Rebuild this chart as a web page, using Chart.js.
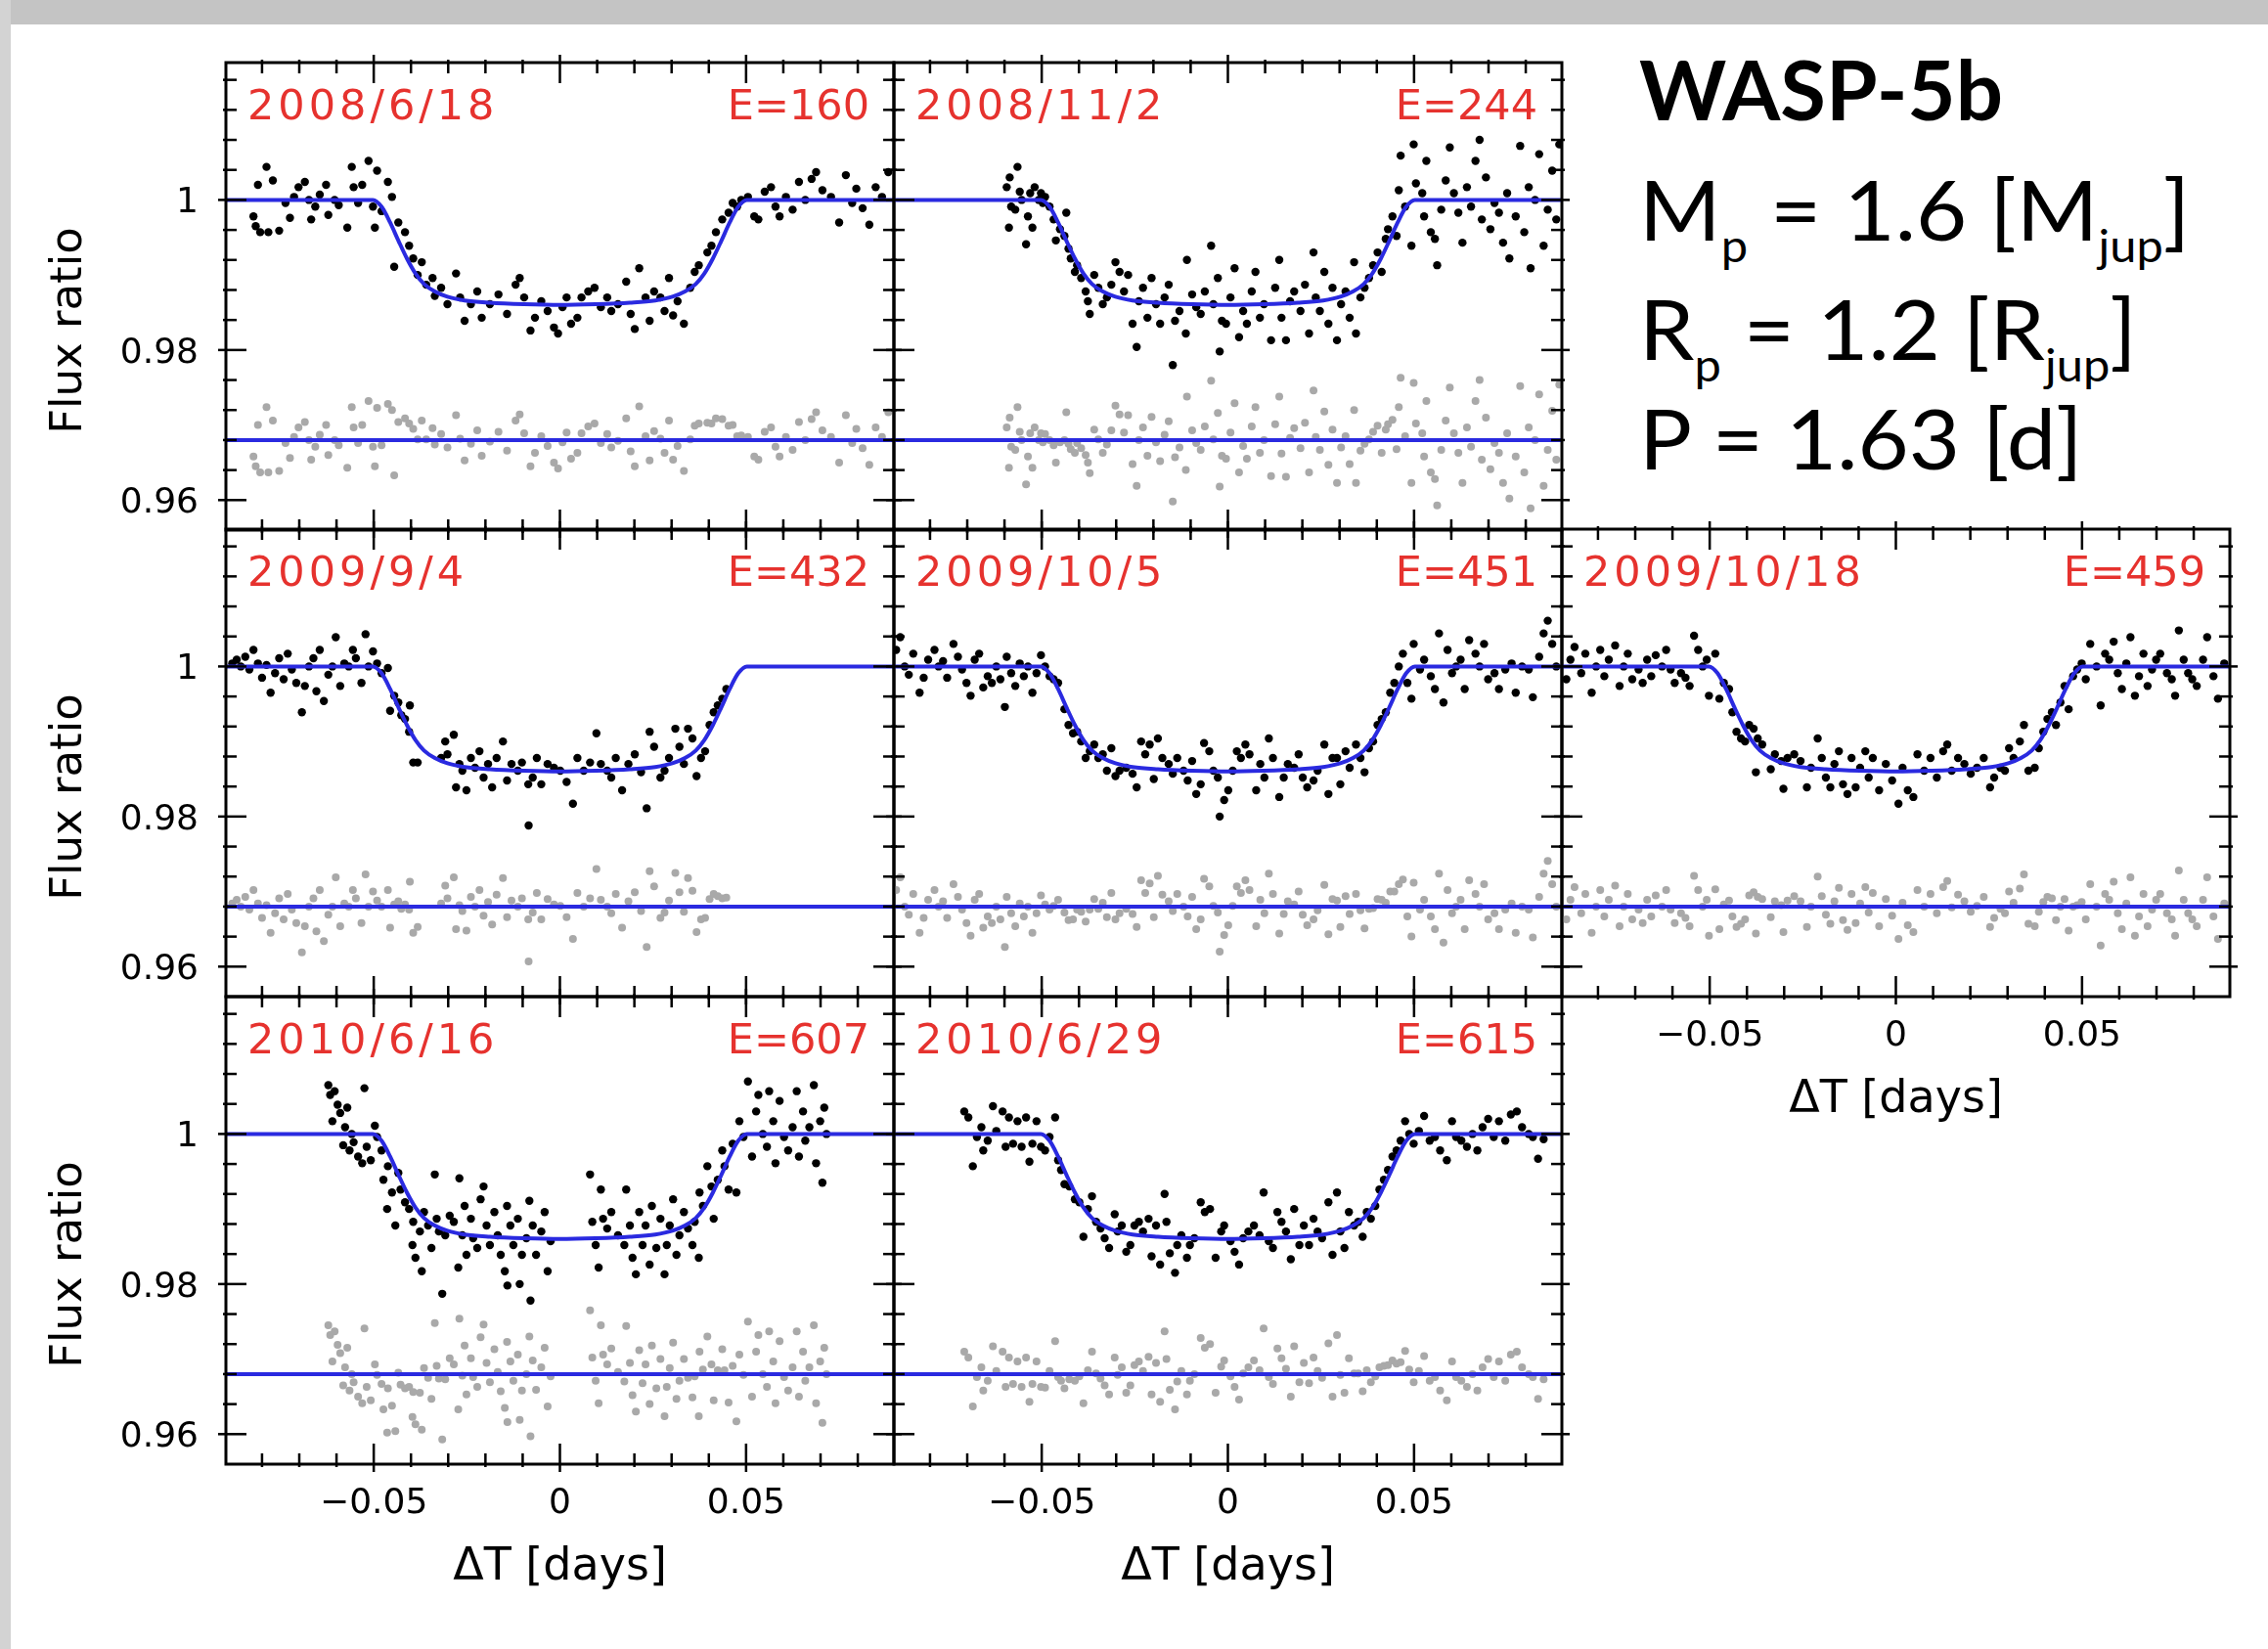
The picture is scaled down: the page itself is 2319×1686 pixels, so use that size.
<!DOCTYPE html>
<html>
<head>
<meta charset="utf-8">
<title>WASP-5b transit light curves</title>
<script src="https://cdn.jsdelivr.net/npm/chart.js@4.4.1/dist/chart.umd.min.js"></script>
<style>
  html, body { margin: 0; padding: 0; background: #fff; }
  body { position: relative; width: 2319px; height: 1686px; overflow: hidden; }
  .bar-top { position: absolute; left: 0; top: 0; width: 2319px; height: 25px; background: #c4c4c4; }
  .bar-left { position: absolute; left: 0; top: 0; width: 11px; height: 1686px; background: #d3d3d3; }
  canvas { position: absolute; left: 0; top: 0; }
  .info { position: absolute; left: 1676px; font-family: Lato, "Open Sans", sans-serif; color: #000;
          font-size: 85px; line-height: 85px; white-space: nowrap; font-weight: 400;
          transform: scaleX(1.06); transform-origin: 0 0; }
  .info .sub { font-size: 46px; position: relative; top: 22px; }
  #title { font-weight: bold; transform: none; }
</style>
</head>
<body>
<div class="bar-top"></div>
<div class="bar-left"></div>

<div class="info" id="title" style="top:48px">WASP-5b</div>
<div class="info" style="top:171px">M<span class="sub">p</span> = 1.6 [M<span class="sub">jup</span>]</div>
<div class="info" style="top:293px">R<span class="sub">p</span> = 1.2 [R<span class="sub">jup</span>]</div>
<div class="info" style="top:405px">P = 1.63 [d]</div>

<script>
// axis limits and ticks (days / flux ratio)
const X_MIN = -0.0897, X_MAX = 0.0897;
const Y_MIN = 0.956, Y_MAX = 1.0183;
const X_MAJOR = [-0.05, 0, 0.05];
const X_LABELS = ['\u22120.05', '0', '0.05'];
const X_MINOR = [-0.08, -0.07, -0.06, -0.04, -0.03, -0.02, -0.01, 0.01, 0.02, 0.03, 0.04, 0.06, 0.07, 0.08];
const Y_MAJOR = [0.96, 0.98, 1];
const Y_LABELS = ['0.96', '0.98', '1'];
const Y_MINOR = [0.964, 0.968, 0.972, 0.976, 0.984, 0.988, 0.992, 0.996, 1.004, 1.008, 1.012, 1.016];

// residuals are plotted shifted to this level
const RESID_LEVEL = 0.968;

// fitted transit model (same planet for every night)
const MODEL_T = [-0.0897, -0.0502, -0.0479, -0.0456, -0.0434, -0.0411, -0.0388, -0.0365, -0.0336, -0.0302, -0.0256, -0.0188, -0.0096, 0,
  0.0096, 0.0188, 0.0256, 0.0302, 0.0336, 0.0365, 0.0388, 0.0411, 0.0434, 0.0456, 0.0479, 0.0502, 0.0897];
const MODEL_F = [1, 1, 0.9991, 0.9970, 0.9946, 0.9922, 0.9902, 0.9888, 0.9878, 0.9871, 0.9866, 0.9863, 0.9861, 0.9860,
  0.9861, 0.9863, 0.9866, 0.9871, 0.9878, 0.9888, 0.9902, 0.9922, 0.9946, 0.9970, 0.9991, 1, 1];

// observations per night: [dT (days), flux ratio, residual]
const obs_2008_06_18 = [
  [-0.0823,0.9978,0.9658],[-0.0817,0.9965,0.9645],[-0.0811,1.0020,0.9700],[-0.0805,0.9957,0.9637],[-0.0788,1.0044,0.9724],
  [-0.0783,0.9957,0.9637],[-0.0771,1.0026,0.9706],[-0.0754,0.9959,0.9639],[-0.0737,0.9996,0.9676],[-0.0725,0.9976,0.9656],
  [-0.0714,1.0004,0.9684],[-0.0702,1.0017,0.9697],[-0.0685,1.0024,0.9704],[-0.0674,1.0000,0.9680],[-0.0668,0.9974,0.9654],
  [-0.0657,0.9991,0.9671],[-0.0645,1.0007,0.9687],[-0.0628,1.0020,0.9700],[-0.0622,0.9980,0.9660],[-0.0605,1.0000,0.9680],
  [-0.0594,0.9993,0.9673],[-0.0571,0.9963,0.9643],[-0.0559,1.0044,0.9724],[-0.0554,1.0017,0.9697],[-0.0542,0.9996,0.9676],
  [-0.0531,1.0020,0.9700],[-0.0514,1.0052,0.9732],[-0.0502,0.9991,0.9671],[-0.0497,0.9963,0.9645],[-0.0491,1.0039,0.9723],
  [-0.0479,0.9985,0.9673],[-0.0462,1.0024,0.9728],[-0.0451,1.0004,0.9720],[-0.0445,0.9911,0.9633],[-0.0434,0.9970,0.9704],
  [-0.0416,0.9957,0.9709],[-0.0405,0.9939,0.9702],[-0.0394,0.9922,0.9695],[-0.0382,0.9900,0.9681],[-0.0371,0.9917,0.9706],
  [-0.0359,0.9887,0.9681],[-0.0342,0.9896,0.9696],[-0.0336,0.9872,0.9674],[-0.0319,0.9883,0.9688],[-0.0302,0.9861,0.9670],
  [-0.0279,0.9902,0.9713],[-0.0268,0.9870,0.9682],[-0.0256,0.9839,0.9653],[-0.0239,0.9861,0.9675],[-0.0222,0.9878,0.9693],
  [-0.0210,0.9843,0.9659],[-0.0188,0.9861,0.9678],[-0.0165,0.9874,0.9691],[-0.0142,0.9848,0.9666],[-0.0119,0.9887,0.9706],
  [-0.0108,0.9896,0.9714],[-0.0096,0.9870,0.9689],[-0.0079,0.9826,0.9645],[-0.0067,0.9843,0.9663],[-0.0050,0.9865,0.9685],
  [-0.0033,0.9852,0.9672],[-0.0016,0.9830,0.9650],[-0.0005,0.9822,0.9642],[0.0007,0.9857,0.9677],[0.0018,0.9870,0.9690],
  [0.0030,0.9835,0.9655],[0.0047,0.9843,0.9663],[0.0058,0.9870,0.9689],[0.0076,0.9878,0.9698],[0.0093,0.9883,0.9702],
  [0.0110,0.9857,0.9676],[0.0127,0.9870,0.9688],[0.0138,0.9852,0.9670],[0.0156,0.9861,0.9679],[0.0178,0.9891,0.9709],
  [0.0190,0.9848,0.9665],[0.0201,0.9828,0.9645],[0.0213,0.9909,0.9725],[0.0230,0.9870,0.9685],[0.0241,0.9839,0.9653],
  [0.0253,0.9878,0.9692],[0.0270,0.9870,0.9682],[0.0281,0.9852,0.9663],[0.0293,0.9896,0.9706],[0.0304,0.9846,0.9654],
  [0.0316,0.9865,0.9672],[0.0333,0.9835,0.9639],[0.0350,0.9883,0.9681],[0.0362,0.9904,0.9699],[0.0373,0.9913,0.9702],
  [0.0396,0.9930,0.9703],[0.0407,0.9939,0.9702],[0.0419,0.9957,0.9709],[0.0436,0.9974,0.9708],[0.0453,0.9983,0.9699],
  [0.0464,0.9996,0.9700],[0.0476,0.9991,0.9685],[0.0487,1.0000,0.9686],[0.0505,1.0004,0.9684],[0.0522,0.9978,0.9658],
  [0.0533,0.9974,0.9654],[0.0550,1.0011,0.9691],[0.0567,1.0017,0.9697],[0.0579,0.9991,0.9671],[0.0590,0.9978,0.9658],
  [0.0607,1.0004,0.9684],[0.0625,0.9987,0.9667],[0.0642,1.0024,0.9704],[0.0659,1.0000,0.9680],[0.0676,1.0028,0.9708],
  [0.0688,1.0037,0.9717],[0.0705,1.0013,0.9693],[0.0728,1.0004,0.9684],[0.0750,0.9970,0.9650],[0.0768,1.0033,0.9713],
  [0.0785,0.9996,0.9676],[0.0796,1.0015,0.9695],[0.0813,0.9989,0.9669],[0.0831,0.9967,0.9647],[0.0848,1.0017,0.9697],
  [0.0865,1.0004,0.9684],[0.0882,1.0037,0.9717]
];

const obs_2008_11_02 = [
  [-0.0594,1.0017,0.9697],[-0.0588,0.9963,0.9643],[-0.0586,1.0030,0.9710],[-0.0582,0.9991,0.9671],[-0.0571,0.9987,0.9667],
  [-0.0565,1.0044,0.9724],[-0.0559,1.0011,0.9691],[-0.0554,1.0000,0.9680],[-0.0542,0.9941,0.9621],[-0.0537,0.9978,0.9658],
  [-0.0531,1.0009,0.9689],[-0.0525,0.9963,0.9643],[-0.0519,1.0017,0.9697],[-0.0508,1.0000,0.9680],[-0.0502,1.0009,0.9689],
  [-0.0497,0.9996,0.9677],[-0.0491,1.0004,0.9688],[-0.0479,0.9991,0.9680],[-0.0468,0.9974,0.9673],[-0.0462,0.9946,0.9650],
  [-0.0451,0.9961,0.9677],[-0.0439,0.9952,0.9680],[-0.0434,0.9983,0.9717],[-0.0428,0.9935,0.9675],[-0.0422,0.9922,0.9668],
  [-0.0411,0.9904,0.9663],[-0.0405,0.9913,0.9676],[-0.0394,0.9896,0.9669],[-0.0382,0.9878,0.9660],[-0.0376,0.9865,0.9650],
  [-0.0371,0.9848,0.9636],[-0.0359,0.9900,0.9694],[-0.0348,0.9883,0.9681],[-0.0336,0.9861,0.9663],[-0.0325,0.9870,0.9674],
  [-0.0313,0.9887,0.9693],[-0.0302,0.9917,0.9726],[-0.0291,0.9904,0.9714],[-0.0279,0.9878,0.9690],[-0.0268,0.9900,0.9713],
  [-0.0256,0.9835,0.9648],[-0.0245,0.9804,0.9619],[-0.0239,0.9865,0.9680],[-0.0228,0.9883,0.9697],[-0.0216,0.9843,0.9659],
  [-0.0205,0.9896,0.9711],[-0.0193,0.9861,0.9677],[-0.0182,0.9835,0.9652],[-0.0170,0.9870,0.9687],[-0.0159,0.9887,0.9705],
  [-0.0148,0.9780,0.9598],[-0.0142,0.9839,0.9657],[-0.0130,0.9852,0.9670],[-0.0113,0.9822,0.9640],[-0.0110,0.9920,0.9738],
  [-0.0096,0.9874,0.9693],[-0.0085,0.9857,0.9676],[-0.0073,0.9848,0.9667],[-0.0062,0.9878,0.9698],[-0.0045,0.9939,0.9759],
  [-0.0039,0.9861,0.9681],[-0.0027,0.9896,0.9716],[-0.0022,0.9798,0.9618],[-0.0016,0.9839,0.9659],[-0.0005,0.9835,0.9655],
  [0.0007,0.9870,0.9690],[0.0018,0.9909,0.9729],[0.0030,0.9817,0.9637],[0.0041,0.9852,0.9672],[0.0051,0.9835,0.9655],
  [0.0064,0.9878,0.9698],[0.0074,0.9904,0.9724],[0.0086,0.9843,0.9663],[0.0097,0.9861,0.9680],[0.0116,0.9813,0.9632],
  [0.0127,0.9883,0.9701],[0.0138,0.9920,0.9738],[0.0144,0.9843,0.9662],[0.0156,0.9813,0.9631],[0.0167,0.9865,0.9683],
  [0.0178,0.9878,0.9696],[0.0195,0.9852,0.9669],[0.0207,0.9887,0.9703],[0.0218,0.9822,0.9637],[0.0230,0.9930,0.9746],
  [0.0236,0.9870,0.9684],[0.0247,0.9852,0.9667],[0.0259,0.9904,0.9718],[0.0270,0.9835,0.9647],[0.0281,0.9883,0.9694],
  [0.0293,0.9813,0.9623],[0.0304,0.9861,0.9670],[0.0316,0.9878,0.9685],[0.0327,0.9843,0.9648],[0.0339,0.9917,0.9720],
  [0.0344,0.9822,0.9623],[0.0356,0.9870,0.9666],[0.0367,0.9883,0.9675],[0.0379,0.9896,0.9681],[0.0390,0.9913,0.9691],
  [0.0402,0.9930,0.9699],[0.0413,0.9904,0.9663],[0.0424,0.9948,0.9694],[0.0430,0.9961,0.9701],[0.0442,0.9978,0.9707],
  [0.0453,0.9952,0.9668],[0.0459,1.0013,0.9724],[0.0464,1.0059,0.9763],[0.0476,0.9991,0.9685],[0.0493,0.9939,0.9623],
  [0.0499,1.0074,0.9756],[0.0505,1.0022,0.9702],[0.0522,1.0009,0.9689],[0.0527,0.9978,0.9658],[0.0533,1.0052,0.9732],
  [0.0545,0.9957,0.9637],[0.0556,0.9948,0.9628],[0.0562,0.9913,0.9593],[0.0573,0.9987,0.9667],[0.0585,1.0026,0.9706],
  [0.0596,1.0070,0.9750],[0.0607,1.0009,0.9689],[0.0619,0.9983,0.9663],[0.0630,0.9943,0.9623],[0.0642,1.0017,0.9697],
  [0.0653,0.9991,0.9671],[0.0665,1.0052,0.9732],[0.0676,1.0080,0.9760],[0.0682,0.9974,0.9654],[0.0693,1.0030,0.9710],
  [0.0705,0.9961,0.9641],[0.0716,0.9996,0.9676],[0.0728,0.9983,0.9663],[0.0739,0.9943,0.9623],[0.0750,1.0009,0.9689],
  [0.0756,0.9922,0.9602],[0.0773,0.9978,0.9658],[0.0785,1.0072,0.9752],[0.0796,0.9957,0.9637],[0.0808,1.0017,0.9697],
  [0.0813,0.9909,0.9589],[0.0825,1.0000,0.9680],[0.0836,1.0061,0.9741],[0.0848,0.9939,0.9619],[0.0859,0.9987,0.9667],
  [0.0871,1.0039,0.9719],[0.0882,0.9974,0.9654],[0.0890,1.0074,0.9754]
];

const obs_2009_09_04 = [
  [-0.0880,1.0004,0.9684],[-0.0868,1.0009,0.9689],[-0.0857,1.0000,0.9680],[-0.0845,1.0013,0.9693],[-0.0834,0.9996,0.9676],
  [-0.0823,1.0022,0.9702],[-0.0811,1.0004,0.9684],[-0.0800,0.9985,0.9665],[-0.0788,1.0002,0.9682],[-0.0777,0.9965,0.9645],
  [-0.0765,0.9991,0.9671],[-0.0754,1.0011,0.9691],[-0.0742,0.9983,0.9663],[-0.0731,1.0017,0.9697],[-0.0720,0.9996,0.9676],
  [-0.0708,0.9978,0.9658],[-0.0693,0.9939,0.9619],[-0.0685,0.9974,0.9654],[-0.0674,1.0000,0.9680],[-0.0662,1.0011,0.9691],
  [-0.0654,0.9967,0.9647],[-0.0645,1.0022,0.9702],[-0.0634,0.9954,0.9634],[-0.0622,0.9989,0.9669],[-0.0611,1.0000,0.9680],
  [-0.0602,1.0039,0.9719],[-0.0590,0.9974,0.9654],[-0.0579,1.0004,0.9684],[-0.0567,1.0000,0.9680],[-0.0556,1.0022,0.9702],
  [-0.0548,1.0011,0.9691],[-0.0533,0.9978,0.9658],[-0.0522,1.0043,0.9723],[-0.0514,1.0000,0.9680],[-0.0502,1.0020,0.9700],
  [-0.0491,1.0004,0.9688],[-0.0479,0.9991,0.9680],[-0.0462,0.9998,0.9702],[-0.0456,0.9941,0.9652],[-0.0445,0.9961,0.9683],
  [-0.0434,0.9952,0.9687],[-0.0426,0.9935,0.9677],[-0.0416,0.9930,0.9683],[-0.0405,0.9913,0.9676],[-0.0403,0.9948,0.9713],
  [-0.0394,0.9872,0.9645],[-0.0382,0.9872,0.9653],[-0.0319,0.9878,0.9684],[-0.0308,0.9900,0.9708],[-0.0302,0.9883,0.9691],
  [-0.0285,0.9909,0.9719],[-0.0279,0.9839,0.9650],[-0.0270,0.9870,0.9682],[-0.0262,0.9861,0.9674],[-0.0251,0.9835,0.9648],
  [-0.0239,0.9878,0.9693],[-0.0228,0.9865,0.9680],[-0.0216,0.9887,0.9702],[-0.0205,0.9852,0.9668],[-0.0193,0.9870,0.9686],
  [-0.0182,0.9839,0.9656],[-0.0170,0.9878,0.9696],[-0.0153,0.9900,0.9718],[-0.0142,0.9848,0.9666],[-0.0130,0.9870,0.9688],
  [-0.0113,0.9861,0.9680],[-0.0102,0.9872,0.9691],[-0.0085,0.9843,0.9663],[-0.0084,0.9788,0.9607],[-0.0073,0.9852,0.9672],
  [-0.0062,0.9878,0.9698],[-0.0050,0.9843,0.9663],[-0.0033,0.9870,0.9690],[-0.0016,0.9865,0.9683],[0.0001,0.9861,0.9681],
  [0.0018,0.9846,0.9666],[0.0035,0.9817,0.9637],[0.0047,0.9878,0.9698],[0.0064,0.9861,0.9680],[0.0081,0.9872,0.9691],
  [0.0098,0.9911,0.9730],[0.0110,0.9870,0.9689],[0.0127,0.9861,0.9680],[0.0138,0.9852,0.9671],[0.0150,0.9878,0.9697],
  [0.0167,0.9835,0.9652],[0.0184,0.9870,0.9687],[0.0201,0.9883,0.9699],[0.0218,0.9859,0.9674],[0.0233,0.9811,0.9626],
  [0.0241,0.9913,0.9727],[0.0253,0.9893,0.9707],[0.0270,0.9852,0.9665],[0.0281,0.9861,0.9672],[0.0293,0.9878,0.9688],
  [0.0310,0.9917,0.9725],[0.0321,0.9893,0.9699],[0.0333,0.9870,0.9673],[0.0344,0.9917,0.9718],[0.0356,0.9904,0.9701],
  [0.0367,0.9854,0.9646],[0.0379,0.9878,0.9663],[0.0390,0.9887,0.9665],[0.0402,0.9922,0.9690],[0.0413,0.9939,0.9697],
  [0.0424,0.9948,0.9694],[0.0436,0.9957,0.9691],[0.0447,0.9970,0.9692]
];

const obs_2009_10_05 = [
  [-0.0891,1.0022,0.9702],[-0.0880,1.0039,0.9719],[-0.0868,1.0000,0.9680],[-0.0857,0.9989,0.9669],[-0.0845,1.0017,0.9697],
  [-0.0828,0.9965,0.9645],[-0.0817,0.9985,0.9665],[-0.0805,1.0009,0.9689],[-0.0788,1.0022,0.9702],[-0.0777,1.0000,0.9680],
  [-0.0765,1.0007,0.9687],[-0.0754,0.9985,0.9665],[-0.0737,1.0030,0.9710],[-0.0725,1.0013,0.9693],[-0.0714,0.9996,0.9676],
  [-0.0702,0.9978,0.9658],[-0.0691,0.9961,0.9641],[-0.0680,1.0009,0.9689],[-0.0668,1.0017,0.9697],[-0.0657,0.9972,0.9652],
  [-0.0645,0.9987,0.9667],[-0.0634,0.9978,0.9658],[-0.0622,1.0000,0.9680],[-0.0611,0.9983,0.9663],[-0.0599,0.9946,0.9626],
  [-0.0594,1.0013,0.9693],[-0.0582,0.9991,0.9671],[-0.0571,0.9974,0.9654],[-0.0559,1.0004,0.9684],[-0.0548,0.9987,0.9667],
  [-0.0537,1.0000,0.9680],[-0.0525,0.9965,0.9645],[-0.0514,0.9991,0.9671],[-0.0502,1.0015,0.9695],[-0.0491,1.0000,0.9683],
  [-0.0479,0.9987,0.9676],[-0.0468,0.9983,0.9681],[-0.0456,0.9978,0.9689],[-0.0439,0.9943,0.9672],[-0.0428,0.9922,0.9662],
  [-0.0416,0.9911,0.9663],[-0.0405,0.9913,0.9676],[-0.0394,0.9900,0.9673],[-0.0382,0.9878,0.9660],[-0.0371,0.9887,0.9676],
  [-0.0359,0.9896,0.9690],[-0.0348,0.9878,0.9677],[-0.0336,0.9883,0.9685],[-0.0325,0.9861,0.9666],[-0.0313,0.9891,0.9698],
  [-0.0302,0.9854,0.9663],[-0.0291,0.9861,0.9671],[-0.0273,0.9865,0.9677],[-0.0256,0.9857,0.9670],[-0.0245,0.9839,0.9653],
  [-0.0233,0.9900,0.9715],[-0.0222,0.9883,0.9698],[-0.0210,0.9896,0.9711],[-0.0199,0.9850,0.9666],[-0.0188,0.9904,0.9721],
  [-0.0176,0.9878,0.9696],[-0.0159,0.9870,0.9687],[-0.0148,0.9857,0.9674],[-0.0136,0.9878,0.9697],[-0.0119,0.9861,0.9680],
  [-0.0108,0.9848,0.9667],[-0.0096,0.9874,0.9693],[-0.0085,0.9830,0.9650],[-0.0073,0.9843,0.9663],[-0.0064,0.9898,0.9717],
  [-0.0050,0.9887,0.9707],[-0.0039,0.9861,0.9681],[-0.0027,0.9852,0.9672],[-0.0022,0.9800,0.9620],[-0.0010,0.9822,0.9642],
  [0.0001,0.9835,0.9655],[0.0013,0.9861,0.9681],[0.0024,0.9887,0.9707],[0.0035,0.9878,0.9698],[0.0047,0.9896,0.9715],
  [0.0058,0.9883,0.9702],[0.0076,0.9835,0.9654],[0.0087,0.9870,0.9689],[0.0098,0.9852,0.9671],[0.0110,0.9904,0.9724],
  [0.0121,0.9878,0.9697],[0.0138,0.9826,0.9644],[0.0150,0.9852,0.9670],[0.0161,0.9870,0.9687],[0.0178,0.9865,0.9683],
  [0.0190,0.9883,0.9700],[0.0201,0.9852,0.9669],[0.0213,0.9839,0.9655],[0.0230,0.9848,0.9663],[0.0241,0.9861,0.9675],
  [0.0259,0.9896,0.9709],[0.0270,0.9830,0.9643],[0.0281,0.9878,0.9690],[0.0293,0.9878,0.9688],[0.0302,0.9843,0.9653],
  [0.0316,0.9887,0.9694],[0.0327,0.9865,0.9670],[0.0344,0.9896,0.9697],[0.0356,0.9878,0.9675],[0.0367,0.9859,0.9651],
  [0.0379,0.9891,0.9677],[0.0390,0.9900,0.9678],[0.0402,0.9922,0.9690],[0.0413,0.9930,0.9689],[0.0424,0.9939,0.9685],
  [0.0436,0.9965,0.9700],[0.0447,0.9978,0.9700],[0.0459,1.0000,0.9710],[0.0470,1.0017,0.9716],[0.0482,0.9978,0.9667],
  [0.0493,0.9957,0.9640],[0.0499,1.0030,0.9712],[0.0516,0.9996,0.9676],[0.0527,1.0009,0.9689],[0.0545,0.9987,0.9667],
  [0.0556,0.9970,0.9650],[0.0567,1.0044,0.9724],[0.0579,0.9952,0.9632],[0.0590,1.0022,0.9702],[0.0602,0.9991,0.9671],
  [0.0613,1.0000,0.9680],[0.0625,1.0009,0.9689],[0.0636,0.9970,0.9650],[0.0648,1.0035,0.9715],[0.0665,1.0017,0.9697],
  [0.0676,1.0000,0.9680],[0.0688,1.0030,0.9710],[0.0699,0.9983,0.9663],[0.0716,0.9991,0.9671],[0.0728,0.9970,0.9650],
  [0.0745,0.9996,0.9676],[0.0762,1.0004,0.9684],[0.0773,0.9965,0.9645],[0.0790,1.0000,0.9680],[0.0808,0.9996,0.9676],
  [0.0819,0.9959,0.9639],[0.0836,1.0013,0.9693],[0.0848,1.0044,0.9724],[0.0859,1.0061,0.9741],[0.0871,1.0030,0.9710],
  [0.0882,1.0000,0.9680]
];

const obs_2009_10_18 = [
  [-0.0885,0.9983,0.9663],[-0.0874,1.0009,0.9689],[-0.0863,1.0026,0.9706],[-0.0845,0.9991,0.9671],[-0.0834,1.0017,0.9697],
  [-0.0817,0.9965,0.9645],[-0.0805,1.0000,0.9680],[-0.0794,1.0022,0.9702],[-0.0783,0.9987,0.9667],[-0.0771,1.0009,0.9689],
  [-0.0754,1.0028,0.9708],[-0.0742,0.9974,0.9654],[-0.0731,1.0000,0.9680],[-0.0720,1.0017,0.9697],[-0.0708,0.9983,0.9663],
  [-0.0691,0.9996,0.9676],[-0.0680,0.9978,0.9658],[-0.0668,1.0009,0.9689],[-0.0657,0.9987,0.9667],[-0.0645,1.0015,0.9695],
  [-0.0628,1.0000,0.9680],[-0.0617,1.0022,0.9702],[-0.0605,0.9996,0.9676],[-0.0594,0.9978,0.9658],[-0.0577,0.9991,0.9671],
  [-0.0565,0.9985,0.9665],[-0.0554,0.9974,0.9654],[-0.0542,1.0041,0.9721],[-0.0531,1.0022,0.9702],[-0.0519,1.0000,0.9680],
  [-0.0508,1.0009,0.9689],[-0.0502,0.9961,0.9641],[-0.0485,1.0017,0.9703],[-0.0474,0.9957,0.9650],[-0.0462,0.9978,0.9683],
  [-0.0448,0.9970,0.9688],[-0.0439,0.9939,0.9667],[-0.0428,0.9913,0.9653],[-0.0416,0.9904,0.9657],[-0.0405,0.9900,0.9663],
  [-0.0394,0.9922,0.9695],[-0.0382,0.9917,0.9699],[-0.0376,0.9859,0.9644],[-0.0371,0.9904,0.9693],[-0.0359,0.9896,0.9690],
  [-0.0336,0.9863,0.9666],[-0.0325,0.9883,0.9687],[-0.0308,0.9874,0.9682],[-0.0302,0.9837,0.9646],[-0.0291,0.9878,0.9688],
  [-0.0273,0.9883,0.9694],[-0.0256,0.9874,0.9687],[-0.0239,0.9839,0.9653],[-0.0228,0.9865,0.9680],[-0.0210,0.9904,0.9720],
  [-0.0199,0.9878,0.9694],[-0.0188,0.9852,0.9669],[-0.0176,0.9839,0.9657],[-0.0165,0.9870,0.9687],[-0.0153,0.9887,0.9705],
  [-0.0142,0.9843,0.9662],[-0.0130,0.9830,0.9649],[-0.0119,0.9878,0.9697],[-0.0108,0.9839,0.9658],[-0.0096,0.9865,0.9684],
  [-0.0082,0.9887,0.9706],[-0.0073,0.9852,0.9672],[-0.0062,0.9878,0.9698],[-0.0045,0.9835,0.9654],[-0.0027,0.9870,0.9690],
  [-0.0010,0.9848,0.9668],[0.0007,0.9817,0.9637],[0.0018,0.9865,0.9685],[0.0032,0.9835,0.9655],[0.0047,0.9826,0.9646],
  [0.0058,0.9883,0.9702],[0.0076,0.9861,0.9680],[0.0093,0.9878,0.9697],[0.0110,0.9852,0.9671],[0.0127,0.9887,0.9706],
  [0.0138,0.9896,0.9714],[0.0150,0.9861,0.9679],[0.0167,0.9878,0.9696],[0.0184,0.9870,0.9687],[0.0201,0.9857,0.9673],
  [0.0218,0.9865,0.9681],[0.0236,0.9878,0.9693],[0.0253,0.9839,0.9653],[0.0264,0.9852,0.9665],[0.0281,0.9865,0.9677],
  [0.0293,0.9861,0.9671],[0.0304,0.9891,0.9700],[0.0316,0.9878,0.9685],[0.0333,0.9900,0.9704],[0.0344,0.9922,0.9723],
  [0.0356,0.9861,0.9657],[0.0373,0.9865,0.9654],[0.0384,0.9891,0.9673],[0.0396,0.9913,0.9686],[0.0407,0.9930,0.9693],
  [0.0419,0.9939,0.9691],[0.0430,0.9922,0.9662],[0.0442,0.9952,0.9680],[0.0453,0.9974,0.9690],[0.0464,0.9943,0.9648],
  [0.0476,0.9987,0.9680],[0.0487,0.9996,0.9682],[0.0499,1.0004,0.9686],[0.0510,0.9983,0.9663],[0.0522,1.0030,0.9710],
  [0.0539,1.0000,0.9680],[0.0550,0.9948,0.9628],[0.0562,1.0017,0.9697],[0.0573,1.0009,0.9689],[0.0585,1.0033,0.9713],
  [0.0596,0.9991,0.9671],[0.0607,0.9970,0.9650],[0.0619,1.0004,0.9684],[0.0630,1.0039,0.9719],[0.0642,0.9961,0.9641],
  [0.0653,0.9987,0.9667],[0.0665,1.0017,0.9697],[0.0676,0.9974,0.9654],[0.0688,0.9996,0.9676],[0.0699,1.0009,0.9689],
  [0.0710,1.0017,0.9697],[0.0728,0.9991,0.9671],[0.0741,0.9983,0.9663],[0.0750,0.9961,0.9641],[0.0760,1.0048,0.9728],
  [0.0773,1.0009,0.9689],[0.0785,0.9991,0.9671],[0.0796,0.9983,0.9663],[0.0808,0.9974,0.9654],[0.0825,1.0009,0.9689],
  [0.0836,1.0039,0.9719],[0.0853,0.9987,0.9667],[0.0865,0.9957,0.9637],[0.0882,1.0004,0.9684]
];

const obs_2010_06_16 = [
  [-0.0622,1.0065,0.9745],[-0.0617,1.0052,0.9732],[-0.0611,1.0017,0.9697],[-0.0605,1.0057,0.9737],[-0.0597,1.0039,0.9719],
  [-0.0590,1.0028,0.9708],[-0.0582,0.9985,0.9665],[-0.0577,1.0009,0.9689],[-0.0571,1.0035,0.9715],[-0.0565,0.9978,0.9658],
  [-0.0559,1.0000,0.9680],[-0.0554,0.9989,0.9669],[-0.0542,0.9970,0.9650],[-0.0531,0.9961,0.9641],[-0.0525,1.0061,0.9741],
  [-0.0519,0.9983,0.9663],[-0.0508,0.9965,0.9645],[-0.0497,1.0011,0.9693],[-0.0491,0.9996,0.9679],[-0.0479,0.9978,0.9667],
  [-0.0474,0.9939,0.9633],[-0.0464,0.9900,0.9602],[-0.0462,0.9957,0.9661],[-0.0451,0.9922,0.9638],[-0.0442,0.9878,0.9604],
  [-0.0434,0.9948,0.9682],[-0.0428,0.9926,0.9666],[-0.0416,0.9909,0.9661],[-0.0405,0.9900,0.9663],[-0.0396,0.9852,0.9623],
  [-0.0394,0.9883,0.9656],[-0.0388,0.9835,0.9613],[-0.0376,0.9870,0.9655],[-0.0371,0.9817,0.9606],[-0.0365,0.9896,0.9688],
  [-0.0354,0.9878,0.9675],[-0.0345,0.9848,0.9647],[-0.0336,0.9946,0.9748],[-0.0331,0.9887,0.9691],[-0.0325,0.9870,0.9674],
  [-0.0316,0.9787,0.9593],[-0.0308,0.9865,0.9673],[-0.0296,0.9891,0.9701],[-0.0285,0.9883,0.9693],[-0.0273,0.9822,0.9633],
  [-0.0270,0.9941,0.9754],[-0.0262,0.9865,0.9678],[-0.0256,0.9904,0.9718],[-0.0251,0.9839,0.9653],[-0.0239,0.9887,0.9701],
  [-0.0233,0.9861,0.9676],[-0.0222,0.9848,0.9663],[-0.0213,0.9913,0.9729],[-0.0205,0.9930,0.9746],[-0.0197,0.9878,0.9695],
  [-0.0188,0.9852,0.9669],[-0.0176,0.9896,0.9713],[-0.0167,0.9865,0.9683],[-0.0159,0.9839,0.9657],[-0.0148,0.9817,0.9635],
  [-0.0142,0.9904,0.9723],[-0.0141,0.9798,0.9616],[-0.0133,0.9878,0.9697],[-0.0125,0.9852,0.9671],[-0.0113,0.9887,0.9706],
  [-0.0108,0.9800,0.9619],[-0.0102,0.9839,0.9658],[-0.0090,0.9861,0.9680],[-0.0082,0.9911,0.9730],[-0.0079,0.9778,0.9597],
  [-0.0073,0.9878,0.9698],[-0.0064,0.9839,0.9659],[-0.0050,0.9870,0.9689],[-0.0041,0.9896,0.9715],[-0.0033,0.9817,0.9637],
  [-0.0025,0.9857,0.9677],[0.0081,0.9946,0.9765],[0.0087,0.9883,0.9702],[0.0096,0.9852,0.9671],[0.0104,0.9822,0.9641],
  [0.0110,0.9926,0.9745],[0.0116,0.9887,0.9706],[0.0127,0.9874,0.9693],[0.0138,0.9896,0.9714],[0.0156,0.9865,0.9683],
  [0.0173,0.9852,0.9670],[0.0178,0.9926,0.9744],[0.0188,0.9878,0.9695],[0.0195,0.9835,0.9652],[0.0204,0.9813,0.9630],
  [0.0213,0.9896,0.9712],[0.0222,0.9852,0.9668],[0.0230,0.9878,0.9693],[0.0241,0.9826,0.9640],[0.0247,0.9904,0.9718],
  [0.0259,0.9848,0.9661],[0.0270,0.9887,0.9700],[0.0281,0.9813,0.9624],[0.0287,0.9852,0.9663],[0.0295,0.9878,0.9688],
  [0.0304,0.9913,0.9722],[0.0313,0.9839,0.9647],[0.0321,0.9865,0.9671],[0.0333,0.9896,0.9700],[0.0344,0.9874,0.9675],
  [0.0356,0.9852,0.9649],[0.0362,0.9883,0.9677],[0.0373,0.9835,0.9624],[0.0375,0.9922,0.9710],[0.0384,0.9904,0.9686],
  [0.0396,0.9957,0.9730],[0.0407,0.9930,0.9693],[0.0413,0.9887,0.9645],[0.0424,0.9939,0.9685],[0.0436,0.9978,0.9713],
  [0.0442,0.9957,0.9685],[0.0453,0.9926,0.9642],[0.0464,0.9987,0.9691],[0.0474,0.9922,0.9617],[0.0482,1.0017,0.9706],
  [0.0493,0.9996,0.9679],[0.0505,1.0070,0.9750],[0.0516,0.9970,0.9650],[0.0527,1.0030,0.9710],[0.0533,1.0052,0.9732],
  [0.0545,1.0000,0.9680],[0.0556,0.9983,0.9663],[0.0562,1.0057,0.9737],[0.0573,1.0017,0.9697],[0.0579,0.9961,0.9641],
  [0.0590,1.0044,0.9724],[0.0602,0.9996,0.9676],[0.0613,0.9978,0.9658],[0.0625,1.0009,0.9689],[0.0636,1.0057,0.9737],
  [0.0642,0.9970,0.9650],[0.0653,1.0030,0.9710],[0.0659,0.9991,0.9671],[0.0670,1.0009,0.9689],[0.0682,1.0065,0.9745],
  [0.0688,0.9961,0.9641],[0.0699,1.0017,0.9697],[0.0705,0.9935,0.9615],[0.0710,1.0035,0.9715],[0.0716,1.0000,0.9680]
];

const obs_2010_06_29 = [
  [-0.0708,1.0030,0.9710],[-0.0697,1.0022,0.9702],[-0.0685,0.9957,0.9637],[-0.0674,0.9996,0.9676],[-0.0662,1.0009,0.9689],
  [-0.0657,0.9978,0.9658],[-0.0645,0.9991,0.9671],[-0.0631,1.0037,0.9717],[-0.0622,1.0004,0.9684],[-0.0605,1.0030,0.9710],
  [-0.0597,0.9983,0.9663],[-0.0588,1.0022,0.9702],[-0.0577,0.9987,0.9667],[-0.0565,1.0017,0.9697],[-0.0554,0.9983,0.9663],
  [-0.0542,1.0022,0.9702],[-0.0533,0.9963,0.9643],[-0.0525,0.9987,0.9667],[-0.0514,1.0017,0.9697],[-0.0502,0.9983,0.9663],
  [-0.0491,0.9978,0.9662],[-0.0479,0.9996,0.9684],[-0.0464,1.0022,0.9724],[-0.0456,0.9965,0.9676],[-0.0448,0.9952,0.9671],
  [-0.0439,0.9933,0.9661],[-0.0426,0.9930,0.9673],[-0.0411,0.9913,0.9671],[-0.0399,0.9909,0.9677],[-0.0388,0.9863,0.9641],
  [-0.0376,0.9900,0.9685],[-0.0365,0.9917,0.9710],[-0.0354,0.9883,0.9681],[-0.0342,0.9874,0.9674],[-0.0331,0.9861,0.9665],
  [-0.0319,0.9848,0.9653],[-0.0304,0.9893,0.9702],[-0.0296,0.9870,0.9679],[-0.0285,0.9878,0.9689],[-0.0273,0.9843,0.9655],
  [-0.0262,0.9852,0.9665],[-0.0251,0.9878,0.9692],[-0.0239,0.9883,0.9697],[-0.0228,0.9870,0.9684],[-0.0213,0.9887,0.9703],
  [-0.0205,0.9837,0.9653],[-0.0193,0.9878,0.9695],[-0.0182,0.9826,0.9643],[-0.0170,0.9920,0.9737],[-0.0165,0.9883,0.9700],
  [-0.0156,0.9841,0.9659],[-0.0142,0.9815,0.9633],[-0.0136,0.9852,0.9670],[-0.0125,0.9865,0.9684],[-0.0110,0.9835,0.9653],
  [-0.0102,0.9852,0.9671],[-0.0090,0.9861,0.9680],[-0.0073,0.9909,0.9728],[-0.0062,0.9896,0.9715],[-0.0048,0.9900,0.9720],
  [-0.0033,0.9835,0.9655],[-0.0018,0.9870,0.9690],[-0.0010,0.9878,0.9698],[0.0007,0.9857,0.9677],[0.0018,0.9843,0.9663],
  [0.0030,0.9826,0.9646],[0.0041,0.9861,0.9681],[0.0055,0.9870,0.9689],[0.0070,0.9878,0.9698],[0.0085,0.9865,0.9685],
  [0.0096,0.9922,0.9741],[0.0110,0.9857,0.9676],[0.0121,0.9848,0.9667],[0.0133,0.9896,0.9714],[0.0144,0.9883,0.9701],
  [0.0156,0.9870,0.9687],[0.0169,0.9833,0.9650],[0.0178,0.9900,0.9717],[0.0192,0.9852,0.9669],[0.0204,0.9878,0.9695],
  [0.0218,0.9852,0.9668],[0.0230,0.9887,0.9702],[0.0241,0.9870,0.9684],[0.0253,0.9861,0.9675],[0.0270,0.9909,0.9721],
  [0.0281,0.9839,0.9650],[0.0293,0.9922,0.9732],[0.0302,0.9870,0.9679],[0.0313,0.9848,0.9655],[0.0325,0.9896,0.9701],
  [0.0339,0.9878,0.9681],[0.0350,0.9883,0.9681],[0.0362,0.9863,0.9657],[0.0373,0.9896,0.9685],[0.0384,0.9887,0.9669],
  [0.0396,0.9904,0.9677],[0.0407,0.9926,0.9689],[0.0419,0.9939,0.9691],[0.0430,0.9952,0.9692],[0.0442,0.9970,0.9698],
  [0.0453,0.9978,0.9694],[0.0464,0.9991,0.9696],[0.0476,1.0017,0.9711],[0.0487,1.0000,0.9686],[0.0499,0.9987,0.9669],
  [0.0513,1.0004,0.9684],[0.0527,1.0024,0.9704],[0.0542,0.9991,0.9671],[0.0556,0.9996,0.9676],[0.0570,0.9978,0.9658],
  [0.0588,0.9965,0.9645],[0.0602,1.0017,0.9697],[0.0613,0.9996,0.9676],[0.0627,0.9991,0.9671],[0.0642,0.9983,0.9663],
  [0.0657,1.0000,0.9680],[0.0670,0.9978,0.9658],[0.0684,1.0009,0.9689],[0.0699,1.0020,0.9700],[0.0714,0.9996,0.9676],
  [0.0728,1.0017,0.9697],[0.0745,0.9991,0.9671],[0.0760,1.0026,0.9706],[0.0776,1.0030,0.9710],[0.0790,1.0009,0.9689],
  [0.0808,1.0000,0.9680],[0.0819,0.9996,0.9676],[0.0833,0.9967,0.9647],[0.0848,0.9993,0.9673]
];

// panel grid on the page
const PAGE_W = 2319, PAGE_H = 1686;
const COL_X = [231, 914, 1597];
const ROW_Y = [64, 541, 1019];
const PANEL_W = 683, PANEL_H = 478;

const RED = '#e6322e';
const BLUE = '#2a2ae0';

const panels = [
  { date: '2008/6/18', epoch: 'E=160', obs: obs_2008_06_18, col: 0, row: 0, yAxis: true, xAxis: false },
  { date: '2008/11/2', epoch: 'E=244', obs: obs_2008_11_02, col: 1, row: 0, yAxis: false, xAxis: false },
  { date: '2009/9/4', epoch: 'E=432', obs: obs_2009_09_04, col: 0, row: 1, yAxis: true, xAxis: false },
  { date: '2009/10/5', epoch: 'E=451', obs: obs_2009_10_05, col: 1, row: 1, yAxis: false, xAxis: false },
  { date: '2009/10/18', epoch: 'E=459', obs: obs_2009_10_18, col: 2, row: 1, yAxis: false, xAxis: true },
  { date: '2010/6/16', epoch: 'E=607', obs: obs_2010_06_16, col: 0, row: 2, yAxis: true, xAxis: true },
  { date: '2010/6/29', epoch: 'E=615', obs: obs_2010_06_29, col: 1, row: 2, yAxis: false, xAxis: true }
];

// frame, inward ticks and all the text of a panel
const panelDecor = {
  id: 'panelDecor',
  afterDraw(chart, args, o) {
    const ctx = chart.ctx;
    const a = chart.chartArea;
    const sx = chart.scales.x, sy = chart.scales.y;
    const seg = (x1, y1, x2, y2) => { ctx.beginPath(); ctx.moveTo(x1, y1); ctx.lineTo(x2, y2); ctx.stroke(); };

    ctx.save();
    ctx.strokeStyle = '#000';
    ctx.lineWidth = 3;
    ctx.strokeRect(a.left, a.top, a.right - a.left, a.bottom - a.top);

    ctx.lineWidth = 2.5;
    X_MINOR.forEach(v => {
      const px = sx.getPixelForValue(v);
      seg(px, a.bottom + 3, px, a.bottom - 11);
      seg(px, a.top - 3, px, a.top + 11);
    });
    X_MAJOR.forEach(v => {
      const px = sx.getPixelForValue(v);
      seg(px, a.bottom + 8, px, a.bottom - 21);
      seg(px, a.top - 8, px, a.top + 21);
    });
    Y_MINOR.forEach(v => {
      const py = sy.getPixelForValue(v);
      seg(a.left - 3, py, a.left + 11, py);
      seg(a.right + 3, py, a.right - 11, py);
    });
    Y_MAJOR.forEach(v => {
      const py = sy.getPixelForValue(v);
      seg(a.left - 8, py, a.left + 21, py);
      seg(a.right + 8, py, a.right - 21, py);
    });

    // night and epoch
    ctx.fillStyle = RED;
    ctx.font = '43px "DejaVu Sans"';
    ctx.textBaseline = 'alphabetic';
    ctx.textAlign = 'left';
    ctx.letterSpacing = '4px';
    ctx.fillText(o.date, a.left + 22, a.top + 58);
    ctx.letterSpacing = '0px';
    ctx.textAlign = 'right';
    ctx.fillText(o.epoch, a.right - 25, a.top + 58);

    ctx.fillStyle = '#000';
    if (o.yAxis) {
      ctx.font = '36px "DejaVu Sans"';
      ctx.textAlign = 'right';
      Y_MAJOR.forEach((v, i) => {
        ctx.fillText(Y_LABELS[i], a.left - 28, sy.getPixelForValue(v) + 13);
      });
      ctx.save();
      ctx.font = '45px "DejaVu Sans"';
      ctx.translate(83, (a.top + a.bottom) / 2 + 35);
      ctx.rotate(-Math.PI / 2);
      ctx.textAlign = 'center';
      ctx.fillText('Flux ratio', 0, 0);
      ctx.restore();
    }
    if (o.xAxis) {
      ctx.font = '36px "DejaVu Sans"';
      ctx.textAlign = 'center';
      X_MAJOR.forEach((v, i) => {
        ctx.fillText(X_LABELS[i], sx.getPixelForValue(v), a.bottom + 50);
      });
      ctx.font = '46px "DejaVu Sans"';
      ctx.fillText('\u0394T [days]', sx.getPixelForValue(0), a.bottom + 118);
    }
    ctx.restore();
  }
};

function createPanel(p) {
  const canvas = document.createElement('canvas');
  canvas.width = PAGE_W;
  canvas.height = PAGE_H;
  document.body.appendChild(canvas);

  const left = COL_X[p.col], top = ROW_Y[p.row];

  new Chart(canvas.getContext('2d'), {
    type: 'scatter',
    data: {
      datasets: [
        {
          label: 'model',
          data: MODEL_T.map((t, i) => ({ x: t, y: MODEL_F[i] })),
          showLine: true,
          borderColor: BLUE,
          borderWidth: 4,
          pointRadius: 0,
          cubicInterpolationMode: 'monotone',
          order: 0
        },
        {
          label: 'residual level',
          data: [{ x: X_MIN, y: RESID_LEVEL }, { x: X_MAX, y: RESID_LEVEL }],
          showLine: true,
          borderColor: BLUE,
          borderWidth: 4,
          pointRadius: 0,
          order: 0
        },
        {
          label: 'flux',
          data: p.obs.map(d => ({ x: d[0], y: d[1] })),
          backgroundColor: '#000',
          pointRadius: 4.2,
          pointBorderWidth: 0,
          order: 1
        },
        {
          label: 'residuals',
          data: p.obs.map(d => ({ x: d[0], y: d[2] })),
          backgroundColor: '#a9a9a9',
          pointRadius: 4,
          pointBorderWidth: 0,
          order: 2
        }
      ]
    },
    options: {
      responsive: false,
      animation: false,
      devicePixelRatio: 1,
      events: [],
      layout: {
        padding: { left: left, top: top, right: PAGE_W - left - PANEL_W, bottom: PAGE_H - top - PANEL_H }
      },
      plugins: {
        legend: { display: false },
        tooltip: { enabled: false },
        panelDecor: { date: p.date, epoch: p.epoch, yAxis: p.yAxis, xAxis: p.xAxis }
      },
      scales: {
        x: { type: 'linear', min: X_MIN, max: X_MAX, display: false },
        y: { type: 'linear', min: Y_MIN, max: Y_MAX, display: false }
      }
    },
    plugins: [panelDecor]
  });
}

panels.forEach(createPanel);
</script>
</body>
</html>
